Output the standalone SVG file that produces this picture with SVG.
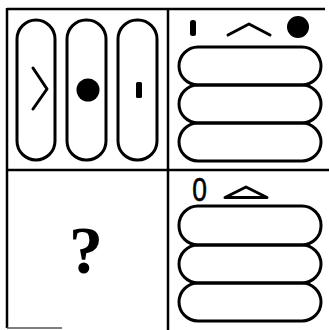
<svg xmlns="http://www.w3.org/2000/svg" width="329" height="330" viewBox="0 0 329 330">
<style>
.ln{stroke:#000;stroke-width:2.5;fill:none}
.pill{stroke:#000;stroke-width:3;fill:none}
.sym{stroke:#000;stroke-width:3;fill:none;stroke-linecap:round;stroke-linejoin:round}
</style>
<rect width="329" height="330" fill="#fff"/>
<g id="grid">
<line class="ln" x1="7" y1="9" x2="325" y2="9"/>
<line class="ln" x1="7" y1="8" x2="7" y2="328"/>
<line class="ln" x1="7" y1="170" x2="329" y2="170"/>
<line class="ln" x1="168" y1="9" x2="168" y2="330"/>
<line x1="7" y1="328" x2="62" y2="328" stroke="#555" stroke-width="1.5"/>
</g>
<g id="cell-top-left">
<rect class="pill" x="17" y="20" width="38" height="140" rx="19"/>
<rect class="pill" x="67" y="20" width="39" height="140" rx="19"/>
<rect class="pill" x="118" y="20" width="39" height="140" rx="19"/>
<polyline class="sym" points="33,68 47,89 33,109"/>
<circle cx="88" cy="90" r="11.5"/>
<rect x="136" y="82" width="6" height="16" rx="1.5"/>
</g>
<g id="cell-top-right">
<rect x="190" y="20" width="6" height="16" rx="2.5"/>
<polyline class="sym" points="228,35 249,24 270,35"/>
<circle cx="298" cy="27" r="11"/>
<rect class="pill" x="179" y="47" width="142" height="38" rx="19"/>
<rect class="pill" x="179" y="85" width="142" height="38" rx="19"/>
<rect class="pill" x="179" y="123" width="142" height="38" rx="19"/>
</g>
<g id="cell-bottom-left">
<text x="86" y="273" font-family="Liberation Serif, serif" font-size="68" font-weight="bold" text-anchor="middle">?</text>
</g>
<g id="cell-bottom-right">
<text x="199.5" y="201" font-family="Liberation Sans, Arial, sans-serif" font-size="33" text-anchor="middle" stroke="#000" stroke-width="0.6" transform="translate(199.5 0) scale(0.8 1) translate(-199.5 0)">0</text>
<polygon class="sym" points="225,197.5 246,187 267,197.5"/>
<rect class="pill" x="179" y="206" width="142" height="39" rx="19"/>
<rect class="pill" x="179" y="245" width="142" height="38" rx="19"/>
<rect class="pill" x="179" y="283" width="142" height="38" rx="19"/>
</g>
</svg>
